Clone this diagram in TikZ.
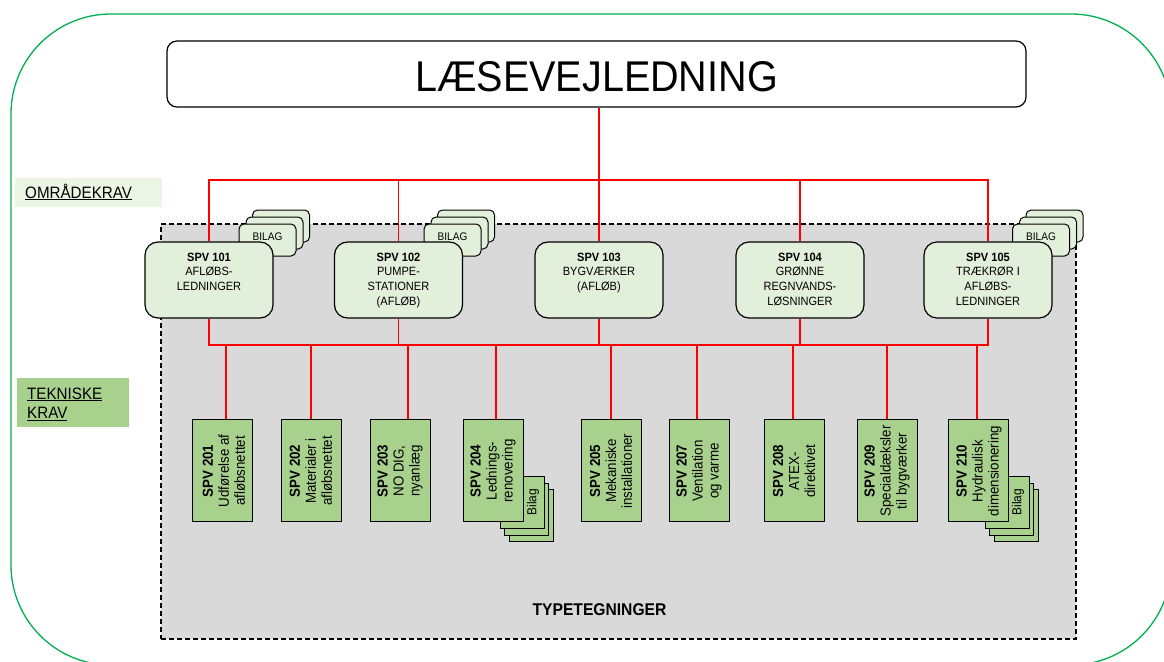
\documentclass[tikz,border=0pt]{standalone}
\usepackage{fontspec}
\setmainfont{Liberation Sans}[FakeStretch=0.92]
\definecolor{outergreen}{RGB}{0,176,80}
\definecolor{lightgreen}{RGB}{226,239,218}
\definecolor{palegreen}{RGB}{235,245,228}
\definecolor{midgreen}{RGB}{169,209,142}
\definecolor{greyfill}{RGB}{217,217,217}
\definecolor{redc}{RGB}{255,0,0}
\pgfdeclarelayer{back}
\pgfdeclarelayer{mid}
\pgfsetlayers{back,mid,main}
\tikzset{
 redl/.style={draw=redc, line width=1.1pt},
 spvbox/.style={draw=black, line width=1.2pt, fill=lightgreen, rounded corners=13pt, minimum width=128pt, minimum height=76pt, inner sep=0pt},
 spvtxt/.style={anchor=north, align=center, inner sep=0pt, font=\fontsize{12}{14.7}\selectfont},
 techbox/.style={draw=black, line width=1pt, fill=midgreen, minimum width=60pt, minimum height=102pt, inner sep=0pt},
 techtxt/.style={rotate=90, align=center, inner sep=0pt, font=\fontsize{14.5}{16}\selectfont},
 bilagtop/.style={draw=black, line width=1pt, fill=lightgreen, rounded corners=5pt, minimum width=57pt, minimum height=32pt, inner sep=0pt},
 bilagtoptxt/.style={inner sep=0pt, font=\fontsize{11}{13}\selectfont},
 bilagside/.style={draw=black, line width=1pt, fill=midgreen, minimum width=44pt, minimum height=52pt, inner sep=0pt},
 bilagsidetxt/.style={rotate=90, inner sep=0pt, font=\fontsize{13}{15}\selectfont},
 labtxt/.style={anchor=base west, inner sep=0pt, font=\fontsize{16.5}{19}\selectfont},
}
\newcommand{\topbilag}[3]{%
  \node[bilagtop] (#1c) at (#2+13.5,#3-14) {};
  \node[bilagtop] (#1b) at (#2+7,#3-7) {};
  \node[bilagtop] (#1a) at (#2,#3) {};
  \node[bilagtoptxt] (#1t) at (#2,#3-3) {BILAG};
}
\newcommand{\sidebilag}[3]{%
  \node[bilagside] (#1c) at (#2+9,#3+13.5) {};
  \node[bilagside] (#1b) at (#2+4.5,#3+7) {};
  \node[bilagside] (#1a) at (#2,#3) {};
  \node[bilagsidetxt] (#1t) at (#2+11,#3) {Bilag};
}
\begin{document}
\begin{tikzpicture}[x=1pt,y=-1pt]
\useasboundingbox (0,0) rectangle (1164,661);
\begin{pgfonlayer}{back}
\begin{scope}
\clip (0,0) rectangle (1164,661);
\draw[draw=outergreen, line width=1.3pt, rounded corners=100pt] (11,14) rectangle (1171,665);
\end{scope}
\node[fill=palegreen, minimum width=147pt, minimum height=29pt, inner sep=0pt] (omrbox) at (88.5,192.5) {};
\node[labtxt] (omrtxt) at (25,198) {\underline{OMRÅDEKRAV}};
\node[fill=midgreen, minimum width=112pt, minimum height=49pt, inner sep=0pt] (tekbox) at (73,402.5) {};
\node[labtxt] (tek1) at (27,399) {\underline{TEKNISKE}};
\node[labtxt] (tek2) at (27,418.3) {\underline{KRAV}};
\node[draw=black, line width=1.8pt, dash pattern=on 5pt off 3pt, fill=greyfill, minimum width=915pt, minimum height=415pt, inner sep=0pt] (grey) at (618.5,431.5) {};
\node[anchor=base, inner sep=0pt, font=\bfseries\fontsize{17}{20}\selectfont] (typ) at (599.5,615.5) {TYPETEGNINGER};
\end{pgfonlayer}

% title
\node[draw=black, line width=1.2pt, rounded corners=10pt, fill=white, minimum width=859pt, minimum height=66pt, inner sep=0pt] (title) at (596.5,74) {};
\node[anchor=base, inner sep=0pt, font=\fontsize{43}{50}\selectfont] (titletxt) at (596.5,92) {LÆSEVEJLEDNING};

% top bilag stacks
\topbilag{ba}{267.5}{240}
\topbilag{bb}{452.5}{240}
\topbilag{be}{1041}{240}

% SPV 1xx
\node[spvbox] (s101) at (209,280) {};
\node[spvbox] (s102) at (398.5,280) {};
\node[spvbox] (s103) at (599,280) {};
\node[spvbox] (s104) at (800,280) {};
\node[spvbox] (s105) at (988,280) {};
\node[spvtxt] (t101) at (209,252.5) {\textbf{SPV 101}\\AFLØBS-\\LEDNINGER};
\node[spvtxt] (t102) at (398.5,252.5) {\textbf{SPV 102}\\PUMPE-\\STATIONER\\(AFLØB)};
\node[spvtxt] (t103) at (599,252.5) {\textbf{SPV 103}\\BYGVÆRKER\\(AFLØB)};
\node[spvtxt] (t104) at (800,252.5) {\textbf{SPV 104}\\GRØNNE\\REGNVANDS-\\LØSNINGER};
\node[spvtxt] (t105) at (988,252.5) {\textbf{SPV 105}\\TRÆKRØR I\\AFLØBS-\\LEDNINGER};

% side bilag stacks
\sidebilag{bd}{522}{502}
\sidebilag{bj}{1007}{502}

% SPV 2xx
\node[techbox] (b201) at (222,470) {};
\node[techbox] (b202) at (311,470) {};
\node[techbox] (b203) at (400,470) {};
\node[techbox] (b204) at (493,470) {};
\node[techbox] (b205) at (611,470) {};
\node[techbox] (b207) at (699,470) {};
\node[techbox] (b208) at (794,470) {};
\node[techbox] (b209) at (887,470) {};
\node[techbox] (b210) at (978,470) {};
\node[techtxt] (u201) at (224,471) {\textbf{SPV 201}\\Udførelse af\\afløbsnettet};
\node[techtxt] (u202) at (311,471) {\textbf{SPV 202}\\Materialer i\\afløbsnettet};
\node[techtxt] (u203) at (400,471) {\textbf{SPV 203}\\NO DIG,\\nyanlæg};
\node[techtxt] (u204) at (493,471) {\textbf{SPV 204}\\Lednings-\\renovering};
\node[techtxt] (u205) at (611,471) {\textbf{SPV 205}\\Mekaniske\\installationer};
\node[techtxt] (u207) at (699,471) {\textbf{SPV 207}\\Ventilation\\og varme};
\node[techtxt] (u208) at (794,471) {\textbf{SPV 208}\\ATEX-\\direktivet};
\node[techtxt] (u209) at (887,471) {\textbf{SPV 209}\\Specialdæksler\\til bygværker};
\node[techtxt] (u210) at (979,471) {\textbf{SPV 210}\\Hydraulisk\\dimensionering};

% red connectors
\begin{pgfonlayer}{mid}
\coordinate (busA) at (599,180);
\coordinate (busB) at (599,345);
\draw[redl] (s103.north |- title.south) -- (s103.north);
\draw[redl] (s101.north) -- (s101.north |- busA) -- (s105.north |- busA) -- (s105.north);
\draw[redl] (s102.north) -- (s102.north |- busA);
\draw[redl] (s104.north) -- (s104.north |- busA);
\draw[redl] (s101.south) -- (s101.south |- busB) -- (s105.south |- busB) -- (s105.south);
\draw[redl] (s102.south) -- (s102.south |- busB);
\draw[redl] (s103.south) -- (s103.south |- busB);
\draw[redl] (s104.south) -- (s104.south |- busB);
\coordinate (d201) at (226,345);
\coordinate (d202) at (311,345);
\coordinate (d203) at (408,345);
\coordinate (d204) at (496,345);
\coordinate (d205) at (611,345);
\coordinate (d207) at (697,345);
\coordinate (d208) at (793,345);
\coordinate (d209) at (887,345);
\coordinate (d210) at (977,345);
\foreach \n in {201,202,203,204,205,207,208,209,210}{
  \draw[redl] (d\n) -- (d\n |- b\n.north);
}
\end{pgfonlayer}
\end{tikzpicture}
\end{document}
